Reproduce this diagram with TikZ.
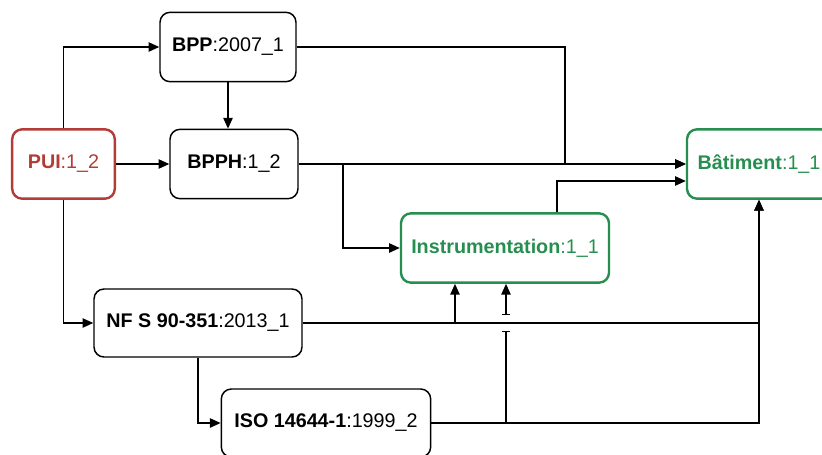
\documentclass[tikz,border=0pt]{standalone}
\usepackage{fontspec}
\setmainfont{Liberation Sans}
\usetikzlibrary{arrows.meta,calc}

\definecolor{puired}{RGB}{178,60,54}
\definecolor{okgreen}{RGB}{38,142,78}

\begin{document}
\begin{tikzpicture}[
  x=0.75pt, y=-0.75pt,
  box/.style={draw, rounded corners=7.5pt, line width=1.1pt, inner sep=0pt,
    minimum height=52pt, font=\fontsize{14.8}{17}\selectfont},
  redbox/.style={box, draw=puired, text=puired, line width=1.8pt},
  greenbox/.style={box, draw=okgreen, text=okgreen, line width=1.8pt},
  conn/.style={-{Triangle[length=8pt,width=7pt]}, line width=1pt},
  jump/.style={line width=1pt},
]
\clip (0,0) rectangle (822,454);

\node[redbox, minimum width=77pt] (pui) at (63.5,164) {\textbf{PUI}:1\_2};
\node[box, minimum width=102pt] (bpp) at (228,47) {\textbf{BPP}:2007\_1};
\node[box, minimum width=96pt] (bpph) at (234,164) {\textbf{BPPH}:1\_2};
\node[greenbox, minimum width=156pt] (instr) at (505,248) {\textbf{Instrumentation}:1\_1};
\node[greenbox, minimum width=108pt] (bat) at (759,164) {\textbf{Bâtiment}:1\_1};
\node[box, minimum width=156pt, minimum height=51pt] (nf) at (198,323) {\textbf{NF S 90-351}:2013\_1};
\node[box, minimum width=157pt, minimum height=51pt] (iso) at (326,423) {\textbf{ISO 14644-1}:1999\_2};

% bends and jump points
\coordinate (bppbend) at (565,47);
\coordinate (split) at (343,164);
\coordinate (instrA) at ($(instr.south)+(-50,0)$);
\coordinate (instrB) at ($(instr.south)+(1,0)$);
\coordinate (jumplo) at (506,331);
\coordinate (jumphi) at (506,315);

\draw[conn] (pui.north) |- (bpp.west);
\draw[conn] (pui.east) -- (bpph.west);
\draw[conn] (pui.south) |- (nf.west);
\draw[conn] (bpp.south) -- (bpp.south |- bpph.north);
\draw[conn] (bpp.east) -- (bppbend) |- (bat.west);
\draw[conn] (bpph.east) -- (bat.west);
\draw[conn] (bpph.east) -- (split) |- (instr.west);
\draw[conn] ($(instr.north)+(52,0)$) |- ($(bat.west)+(0,17)$);
\draw[conn] (nf.east) -| (bat.south);
\draw[conn] (nf.east) -| (instrA);
\draw[conn] (nf.south) |- (iso.west);
\draw[conn] (iso.east) -| (bat.south);
\draw[jump, -{Bar[width=6pt]}] (iso.east) -| (jumplo);
\draw[jump, {Bar[width=6pt]}-{Triangle[length=8pt,width=7pt]}] (jumphi) -- (instrB);
\end{tikzpicture}
\end{document}
